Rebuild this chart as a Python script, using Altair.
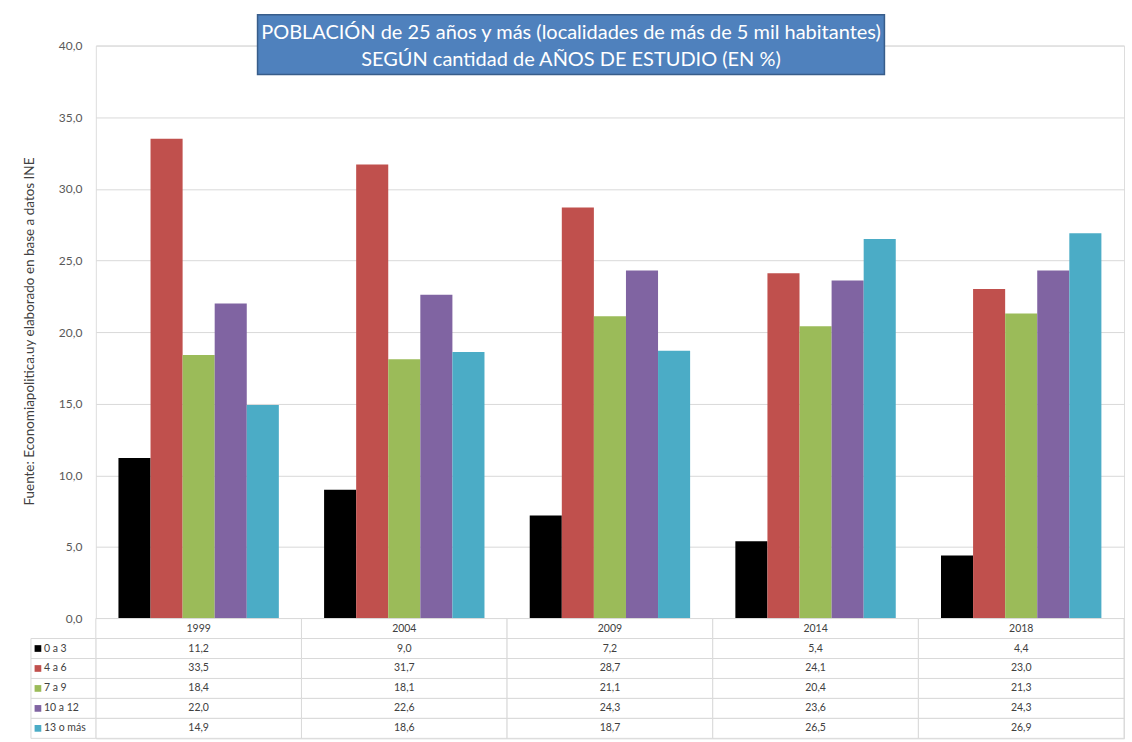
import altair as alt
import pandas as pd

years = ["1999", "2004", "2009", "2014", "2018"]
categories = ["0 a 3", " 4 a 6", "7 a 9", "10 a 12", "13 o más"]
colors = ["#000000", "#C0504D", "#9BBB59", "#8064A2", "#4BACC6"]
v_0a3 = [11.2, 9.0, 7.2, 5.4, 4.4]
v_4a6 = [33.5, 31.7, 28.7, 24.1, 23.0]
v_7a9 = [18.4, 18.1, 21.1, 20.4, 21.3]
v_10a12 = [22.0, 22.6, 24.3, 23.6, 24.3]
v_13mas = [14.9, 18.6, 18.7, 26.5, 26.9]
title_lines = ["POBLACIÓN de 25 años y más (localidades de más de 5 mil habitantes)",
               "SEGÚN cantidad de AÑOS DE ESTUDIO (EN %)"]
y_title = "Fuente:  Economiapolitica.uy elaborado en base a datos INE"

series = [v_0a3, v_4a6, v_7a9, v_10a12, v_13mas]
rows = []
for c, vals in zip(categories, series):
    for y, v in zip(years, vals):
        rows.append({"year": y, "cat": c, "value": v,
                     "label": f"{v:.1f}".replace(".", ",")})
df = pd.DataFrame(rows)

FONT = "Lato"
W = 1030
H = 574
color_scale = alt.Scale(domain=categories, range=colors)

bars = alt.Chart(df).mark_bar(stroke=None).encode(
    x=alt.X("year:N", sort=years, axis=None,
            scale=alt.Scale(paddingInner=0.22, paddingOuter=0.11)),
    xOffset=alt.XOffset("cat:N", sort=categories, scale=alt.Scale(padding=0)),
    y=alt.Y("value:Q", scale=alt.Scale(domain=[0, 40], nice=False),
            axis=alt.Axis(values=[0, 5, 10, 15, 20, 25, 30, 35, 40],
                          labelExpr="replace(format(datum.value, '.1f'), '.', ',')",
                          domain=False, ticks=False, labelPadding=14,
                          labelFontSize=12, labelColor="#595959", labelFont=FONT,
                          gridColor="#D9D9D9", title=y_title,
                          titleFontSize=13.5, titleFont=FONT, titleColor="#404040",
                          titleFontWeight="normal", titleX=-66, titleY=286,
                          titleAngle=-90, titleAlign="center", titleBaseline="middle")),
    color=alt.Color("cat:N", scale=color_scale, legend=None),
)

one = pd.DataFrame({"a": [0]})
anchor = alt.Chart(one).mark_rect(opacity=0).encode(
    x=alt.value(-95), x2=alt.value(W + 7), y=alt.value(-44), y2=alt.value(0))
tbox = alt.Chart(one).mark_rect(fill="#4F81BD", stroke="#385D8A", strokeWidth=1.5).encode(
    x=alt.value(162), x2=alt.value(790), y=alt.value(-31), y2=alt.value(29))
t1 = alt.Chart(one).mark_text(text=title_lines[0], font=FONT, fontSize=20, color="white",
                              align="center", baseline="middle").encode(
    x=alt.value(476), y=alt.value(-13))
t2 = alt.Chart(one).mark_text(text=title_lines[1], font=FONT, fontSize=20, color="white",
                              align="center", baseline="middle").encode(
    x=alt.value(476), y=alt.value(14))

top = alt.layer(anchor, bars, tbox, t1, t2).properties(width=W, height=H)

# table
row_domain = ["hdr"] + categories
hdr = pd.DataFrame({"year": years, "row": ["hdr"] * len(years), "label": years})
cells = pd.concat([hdr, df.rename(columns={"cat": "row"})[["year", "row", "label"]]],
                  ignore_index=True)
xs = alt.X("year:N", sort=years, axis=None, scale=alt.Scale(padding=0))
ys = alt.Y("row:N", sort=row_domain, axis=None, scale=alt.Scale(domain=row_domain, padding=0))

cell_rect = alt.Chart(cells).mark_rect(fill="white", stroke="#D9D9D9", strokeWidth=1).encode(x=xs, y=ys)
cell_text = alt.Chart(cells).mark_text(font=FONT, fontSize=10.5, color="#404040").encode(
    x=xs, y=ys, text="label:N")

leg = pd.DataFrame({"row": categories})
leg_rect = alt.Chart(leg).mark_rect(fill="white", stroke="#D9D9D9", strokeWidth=1).encode(
    x=alt.value(-65), x2=alt.value(0), y=ys)
leg_sq = alt.Chart(leg).mark_square(size=45, opacity=1).encode(
    x=alt.value(-58), y=ys, color=alt.Color("row:N", scale=color_scale, legend=None))
leg_txt = alt.Chart(leg).mark_text(font=FONT, fontSize=10.5, color="#404040", align="left").encode(
    x=alt.value(-52), y=ys, text="row:N")

table = alt.layer(cell_rect, cell_text, leg_rect, leg_sq, leg_txt).properties(width=W, height=120)

chart = alt.vconcat(top, table, spacing=0, bounds="flush").properties(
    padding=0,
).configure_view(strokeWidth=0).configure(background="white")

chart.save("out.html", embed_options={"renderer": "svg", "actions": False})
